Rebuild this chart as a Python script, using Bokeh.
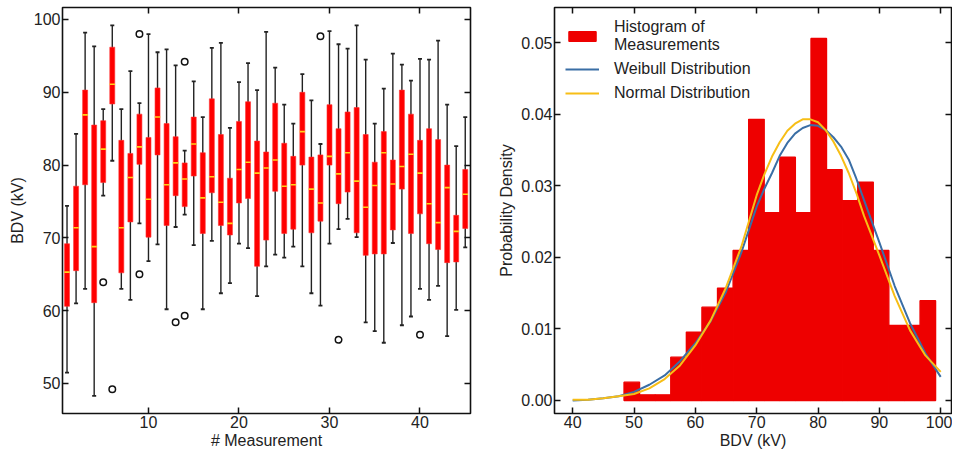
from bokeh.plotting import figure
from bokeh.layouts import row
from bokeh.models import (LinearAxis, FixedTicker, Range1d, Legend, LegendItem,
                          PrintfTickFormatter, ColumnDataSource)
from bokeh.embed import file_html
from bokeh.resources import INLINE

FONT = "Liberation Sans"

# ---------------- data: box plot (45 measurement series, kV) ----------------
measurement = list(range(1, 46))
whisker_low = [51.5, 61.0, 63.0, 48.3, 75.8, 80.6, 63.0, 61.5, 72.0, 66.8,
               69.1, 60.2, 71.5, 73.2, 69.0, 60.2, 69.6, 62.4, 63.8, 69.2,
               68.6, 62.0, 66.1, 67.7, 67.3, 68.8, 66.1, 62.4, 60.7, 69.2,
               71.2, 72.6, 70.1, 58.4, 57.2, 55.6, 69.3, 58.0, 59.2, 63.0,
               61.5, 63.4, 56.5, 60.1, 68.7]
q1 = [60.6, 65.5, 77.3, 61.1, 77.6, 88.4, 65.2, 72.2, 80.1, 70.1,
      81.4, 71.7, 75.8, 74.3, 78.5, 70.6, 76.2, 71.7, 70.4, 74.8,
      75.4, 66.1, 69.7, 76.4, 70.6, 71.2, 80.0, 70.7, 72.3, 80.0,
      74.7, 76.3, 70.7, 67.6, 67.8, 67.8, 71.1, 76.7, 70.6, 73.3,
      69.2, 68.4, 66.6, 66.7, 71.3]
median = [65.3, 71.4, 86.9, 68.8, 82.2, 91.1, 71.4, 78.3, 82.5, 75.3,
          86.6, 77.3, 80.3, 78.1, 82.9, 75.5, 78.4, 74.9, 72.0, 79.4,
          80.4, 78.9, 79.6, 80.7, 77.1, 77.3, 84.6, 76.7, 74.8, 81.2,
          78.8, 81.7, 77.8, 74.2, 77.2, 81.7, 77.4, 79.8, 81.5, 78.9,
          74.7, 72.1, 76.9, 70.9, 76.0]
q3 = [69.2, 77.1, 90.3, 85.5, 86.1, 96.2, 83.4, 81.6, 87.0, 83.8,
      90.6, 85.7, 83.9, 80.3, 86.6, 81.7, 89.1, 84.2, 78.2, 86.0,
      88.7, 83.3, 81.8, 88.5, 83.0, 81.2, 90.0, 81.1, 81.4, 88.3,
      85.0, 87.3, 87.9, 84.2, 80.4, 84.6, 80.7, 90.3, 87.0, 83.4,
      85.0, 83.5, 80.0, 73.1, 79.4]
whisker_high = [74.4, 84.3, 98.2, 96.3, 87.7, 99.2, 87.7, 92.9, 88.5, 98.0,
                95.5, 95.9, 93.7, 82.0, 91.5, 86.6, 96.1, 96.8, 85.1, 91.4,
                94.0, 90.3, 98.3, 93.4, 88.3, 85.7, 92.5, 88.9, 82.9, 98.4,
                96.6, 96.0, 99.2, 94.5, 85.7, 90.5, 95.3, 93.8, 91.6, 94.6,
                94.5, 97.1, 88.3, 82.6, 86.6]
outlier_x = [5, 6, 9, 9, 13, 14, 14, 29, 31, 40]
outlier_y = [63.9, 49.2, 98.0, 65.0, 58.4, 94.2, 59.3, 97.7, 56.0, 56.7]

# ---------------- data: histogram + fitted curves ----------------
bin_edges = [48.37, 50.91, 53.45, 55.99, 58.53, 61.07, 63.61, 66.15, 68.69, 71.23,
             73.77, 76.31, 78.85, 81.39, 83.93, 86.47, 89.01, 91.55, 94.09, 96.63, 99.17]
density = [0.00256, 0.00079, 0.00079, 0.00606, 0.00956, 0.01305, 0.01571, 0.02098,
           0.0393, 0.02625, 0.0340, 0.02625, 0.0506, 0.03226, 0.02793, 0.03054,
           0.02098, 0.01049, 0.01049, 0.01394]

curve_x = [40, 42.5, 45, 47.5, 50, 52.5, 55, 57.5, 60, 62.5, 65, 67.5, 70,
           71.25, 72.5, 73.75, 75, 76.25, 77.5, 78.75, 80, 81.25, 82.5, 83.75,
           85, 86.25, 87.5, 90, 92.5, 95, 97.5, 100]
weibull_y = [0.0000, 0.0001, 0.0003, 0.0006, 0.0012, 0.0022, 0.0035, 0.0055, 0.0080,
             0.0111, 0.0152, 0.0207, 0.0271,
             0.0296, 0.0318, 0.0342, 0.0360, 0.0373, 0.0381, 0.0385, 0.0384, 0.0378,
             0.0368, 0.0355, 0.0337, 0.0310, 0.0280, 0.0221, 0.0160, 0.0108, 0.0066, 0.0033]
normal_y = [0.0001, 0.0001, 0.0003, 0.0006, 0.0009, 0.0017, 0.0030, 0.0049, 0.0077,
            0.0112, 0.0158, 0.0215, 0.0287,
            0.0316, 0.0341, 0.0361, 0.0377, 0.0387, 0.0393, 0.0393, 0.0389, 0.0378,
            0.0362, 0.0342, 0.0318, 0.0290, 0.0258, 0.0203, 0.0146, 0.0098, 0.0063, 0.0040]

left_xticks = [10, 20, 30, 40]
left_yticks = [50, 60, 70, 80, 90, 100]
right_xticks = [40, 50, 60, 70, 80, 90, 100]
right_yticks = [0.0, 0.01, 0.02, 0.03, 0.04, 0.05]


def cfg(ax, ticks, labels=True, fmt=None, label_standoff=1):
    ax.ticker = FixedTicker(ticks=ticks)
    ax.major_tick_in = 6
    ax.major_tick_out = 0
    ax.major_tick_line_width = 1.5
    ax.major_tick_line_color = "#111111"
    ax.minor_tick_line_color = None
    ax.axis_line_color = None
    ax.major_label_text_font = FONT
    if labels:
        ax.major_label_text_color = "#222222"
        ax.major_label_text_font_size = "16px"
        ax.major_label_standoff = 2
    else:
        ax.major_label_text_color = None
        ax.major_label_text_alpha = 0
        ax.major_label_text_font_size = "1px"
        ax.major_label_standoff = 0
    ax.axis_label_text_font = FONT
    ax.axis_label_text_font_size = "16px"
    ax.axis_label_text_font_style = "normal"
    ax.axis_label_text_color = "#222222"
    ax.axis_label_standoff = label_standoff
    if fmt is not None:
        ax.formatter = fmt


# ---------------- left: box plot ----------------
left = figure(width=495, height=453, x_range=Range1d(0.5, 45.58),
              y_range=Range1d(45.879, 101.648), output_backend="svg",
              toolbar_location=None, min_border_left=62, min_border_right=25,
              min_border_top=7, min_border_bottom=40)
left.grid.grid_line_color = None
left.outline_line_color = "#111111"
left.outline_line_width = 1.6

box_src = ColumnDataSource(dict(m=measurement, lo=whisker_low, q1=q1, med=median,
                                q3=q3, hi=whisker_high))
left.segment(x0="m", y0="lo", x1="m", y1="hi", source=box_src,
             line_color="#222222", line_width=1.4)
left.vbar(x="m", width=0.55, bottom="q1", top="q3", source=box_src,
          fill_color="#FF0000", line_color="#FF3030", line_width=0.6)
left.scatter(x="m", y="med", source=box_src, marker="dash", size=5.5,
             line_color="#FFD21A", line_width=1.6)
left.scatter(x="m", y="lo", source=box_src, marker="dash", size=4,
             line_color="#222222", line_width=1.8)
left.scatter(x="m", y="hi", source=box_src, marker="dash", size=4,
             line_color="#222222", line_width=1.8)
left.scatter(x=outlier_x, y=outlier_y, marker="circle", size=6.5,
             fill_color=None, line_color="#111111", line_width=1.5)

cfg(left.xaxis[0], left_xticks)
cfg(left.yaxis[0], left_yticks, label_standoff=5)
left.xaxis[0].axis_label = "# Measurement"
left.yaxis[0].axis_label = "BDV (kV)"
top_ax = LinearAxis()
cfg(top_ax, left_xticks, labels=False)
left.add_layout(top_ax, "above")
right_ax = LinearAxis()
cfg(right_ax, left_yticks, labels=False)
left.add_layout(right_ax, "right")

# ---------------- right: histogram ----------------
right = figure(width=457, height=453, x_range=Range1d(37.039, 101.76),
               y_range=Range1d(-0.001818, 0.054937), output_backend="svg",
               toolbar_location=None, min_border_left=56, min_border_right=1,
               min_border_top=7, min_border_bottom=40)
right.grid.grid_line_color = None
right.outline_line_color = "#111111"
right.outline_line_width = 1.6

hist = right.quad(left=bin_edges[:-1], right=bin_edges[1:], top=density, bottom=0,
                  fill_color="#EE0000", line_color="#EE0000", line_width=1.3)
wl = right.line(curve_x, weibull_y, line_color="#3A6EA5", line_width=2)
nl = right.line(curve_x, normal_y, line_color="#F7BE16", line_width=2)

fmt = PrintfTickFormatter(format="%.2f")
cfg(right.xaxis[0], right_xticks)
cfg(right.yaxis[0], right_yticks, fmt=fmt, label_standoff=3)
right.xaxis[0].axis_label = "BDV (kV)"
right.yaxis[0].axis_label = "Probability Density"
top_ax2 = LinearAxis()
cfg(top_ax2, right_xticks, labels=False)
right.add_layout(top_ax2, "above")
right_ax2 = LinearAxis()
cfg(right_ax2, right_yticks, labels=False)
right.add_layout(right_ax2, "right")

legend = Legend(items=[LegendItem(label="Histogram of\nMeasurements", renderers=[hist]),
                       LegendItem(label="Weibull Distribution", renderers=[wl]),
                       LegendItem(label="Normal Distribution", renderers=[nl])],
                location="top_left", border_line_color=None, background_fill_alpha=0,
                label_text_font=FONT, label_text_font_size="16px",
                label_text_color="#222222",
                glyph_width=34, glyph_height=12, label_standoff=15, spacing=5,
                padding=8, margin=11, label_height=19)
right.add_layout(legend)

layout = row(left, right)
open("out.html", "w").write(file_html(layout, INLINE))
